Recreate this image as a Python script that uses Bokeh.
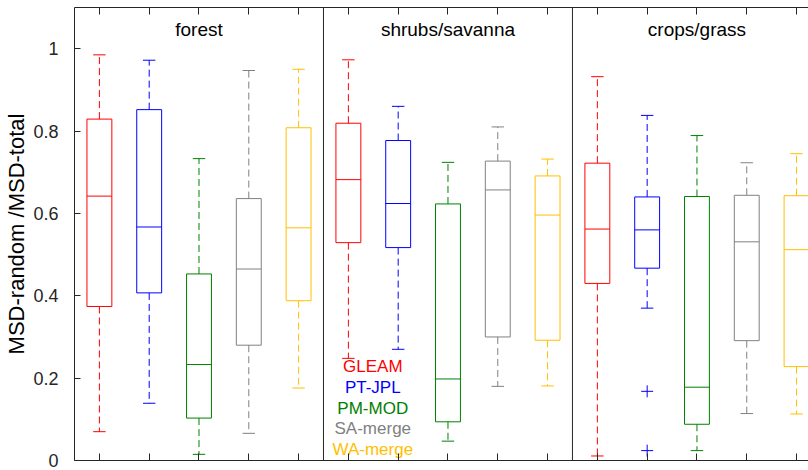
import numpy as np
from bokeh.plotting import figure
from bokeh.models import Range1d, LinearAxis, FixedTicker, Span, ColumnDataSource
from bokeh.core.properties import value
from bokeh.embed import file_html
from bokeh.resources import INLINE

# ---------------- data ----------------
panels = ["forest", "shrubs/savanna", "crops/grass"]
products = ["GLEAM", "PT-JPL", "PM-MOD", "SA-merge", "WA-merge"]
colors = ["#FF0000", "#0000FF", "#008000", "#808080", "#FFBF00"]

forest_low = [0.070, 0.139, 0.015, 0.066, 0.176]
forest_q1 = [0.374, 0.407, 0.103, 0.280, 0.388]
forest_med = [0.642, 0.567, 0.233, 0.465, 0.565]
forest_q3 = [0.829, 0.852, 0.453, 0.636, 0.808]
forest_high = [0.985, 0.972, 0.733, 0.947, 0.950]

shrub_low = [0.248, 0.270, 0.047, 0.180, 0.181]
shrub_q1 = [0.529, 0.517, 0.094, 0.300, 0.292]
shrub_med = [0.682, 0.624, 0.198, 0.657, 0.596]
shrub_q3 = [0.819, 0.777, 0.623, 0.727, 0.691]
shrub_high = [0.973, 0.860, 0.724, 0.810, 0.732]

crop_low = [0.011, 0.370, 0.024, 0.114, 0.113]
crop_q1 = [0.430, 0.467, 0.088, 0.291, 0.228]
crop_med = [0.562, 0.560, 0.178, 0.531, 0.512]
crop_q3 = [0.722, 0.640, 0.641, 0.644, 0.643]
crop_high = [0.932, 0.838, 0.789, 0.723, 0.745]

# outliers (panel index, product index, value)
outlier_panel = [2, 2]
outlier_product = [1, 1]
outlier_value = [0.168, 0.024]

y_ticks = [0, 0.2, 0.4, 0.6, 0.8, 1.0]
y_tick_labels = ["0", "0.2", "0.4", "0.6", "0.8", "1"]

stats = [
    (forest_low, forest_q1, forest_med, forest_q3, forest_high),
    (shrub_low, shrub_q1, shrub_med, shrub_q3, shrub_high),
    (crop_low, crop_q1, crop_med, crop_q3, crop_high),
]

# ---------------- figure ----------------
FONT = "Liberation Sans"
AX = "#262626"
npp = len(products)

p = figure(width=808, height=470, output_backend="svg", toolbar_location=None,
           x_range=Range1d(0.5, 15.24), y_range=Range1d(0, 1.1),
           min_border_left=74, min_border_right=0, min_border_top=7, min_border_bottom=10)
p.outline_line_color = None
p.grid.visible = False
p.background_fill_color = "white"
p.border_fill_color = "white"

box_w = 0.5
cap_w = 0.25

rows = dict(x=[], low=[], q1=[], med=[], q3=[], high=[], color=[])
for pi, (lo, a, m, b, hi) in enumerate(stats):
    for j in range(npp):
        rows["x"].append(pi * npp + j + 1)
        rows["low"].append(lo[j]); rows["q1"].append(a[j]); rows["med"].append(m[j])
        rows["q3"].append(b[j]); rows["high"].append(hi[j]); rows["color"].append(colors[j])
src = ColumnDataSource(rows)
xs = np.array(rows["x"], dtype=float)
src.data["xl"] = list(xs - box_w / 2)
src.data["xr"] = list(xs + box_w / 2)
src.data["cl"] = list(xs - cap_w / 2)
src.data["cr"] = list(xs + cap_w / 2)

# whiskers
p.segment(x0="x", y0="q3", x1="x", y1="high", source=src, line_color="color",
          line_width=1, line_dash="7 4")
p.segment(x0="x", y0="q1", x1="x", y1="low", source=src, line_color="color",
          line_width=1, line_dash="7 4")
# caps
p.segment(x0="cl", y0="high", x1="cr", y1="high", source=src, line_color="color", line_width=1)
p.segment(x0="cl", y0="low", x1="cr", y1="low", source=src, line_color="color", line_width=1)
# boxes
p.quad(left="xl", right="xr", bottom="q1", top="q3", source=src, fill_color=None,
       line_color="color", line_width=1)
# medians
p.segment(x0="xl", y0="med", x1="xr", y1="med", source=src, line_color="color", line_width=1)

# outliers
ox = [pi * npp + j + 1 for pi, j in zip(outlier_panel, outlier_product)]
oc = [colors[j] for j in outlier_product]
p.scatter(x=ox, y=outlier_value, marker="cross", size=12, line_color=oc, line_width=1)

# panel separators
for k in range(1, len(panels)):
    p.add_layout(Span(location=k * npp + 0.5, dimension="height", line_color=AX, line_width=1))

# panel titles
title_x = [k * npp + (npp + 1) / 2 for k in range(len(panels))]
p.text(x=title_x, y=[1.047] * len(panels), text=panels, text_align="center",
       text_baseline="middle", text_font=value(FONT), text_font_size="19px", text_color="#000000")

# legend text in second panel
leg_y0, leg_step = 0.228, 0.0503
leg_y = [leg_y0 - i * leg_step for i in range(npp)]
p.text(x=[npp + 1.49] * npp, y=leg_y, text=products, text_align="center",
       text_baseline="middle", text_font=value(FONT), text_font_size="17px", text_color=colors)

# axes
tick_pos = list(range(1, len(panels) * npp + 1))
xa = p.xaxis[0]
xa.ticker = FixedTicker(ticks=tick_pos)
xa.major_label_text_font_size = "1px"
xa.major_label_text_color = None
xa.major_label_standoff = 0
xa.major_tick_in = 7
xa.major_tick_out = 0
xa.minor_tick_line_color = None
xa.axis_line_color = AX
xa.major_tick_line_color = AX

top = LinearAxis(ticker=FixedTicker(ticks=tick_pos))
top.major_label_text_font_size = "1px"
top.major_label_text_color = None
top.major_label_standoff = 0
top.major_tick_in = 7
top.major_tick_out = 0
top.minor_tick_line_color = None
top.axis_line_color = AX
top.major_tick_line_color = AX
p.add_layout(top, "above")

ya = p.yaxis[0]
ya.ticker = FixedTicker(ticks=y_ticks)
ya.major_label_overrides = {t: l for t, l in zip(y_ticks, y_tick_labels)}
ya.major_label_text_font = FONT
ya.major_label_text_font_size = "18px"
ya.major_label_text_color = AX
ya.major_label_standoff = 16
ya.major_tick_in = 6
ya.major_tick_out = 0
ya.minor_tick_line_color = None
ya.axis_line_color = AX
ya.major_tick_line_color = AX
ya.axis_label = "MSD-random /MSD-total"
ya.axis_label_text_font = FONT
ya.axis_label_text_font_size = "22px"
ya.axis_label_text_font_style = "normal"
ya.axis_label_text_color = "#000000"
ya.axis_label_standoff = 1

open("out.html", "w").write(file_html(p, INLINE))
